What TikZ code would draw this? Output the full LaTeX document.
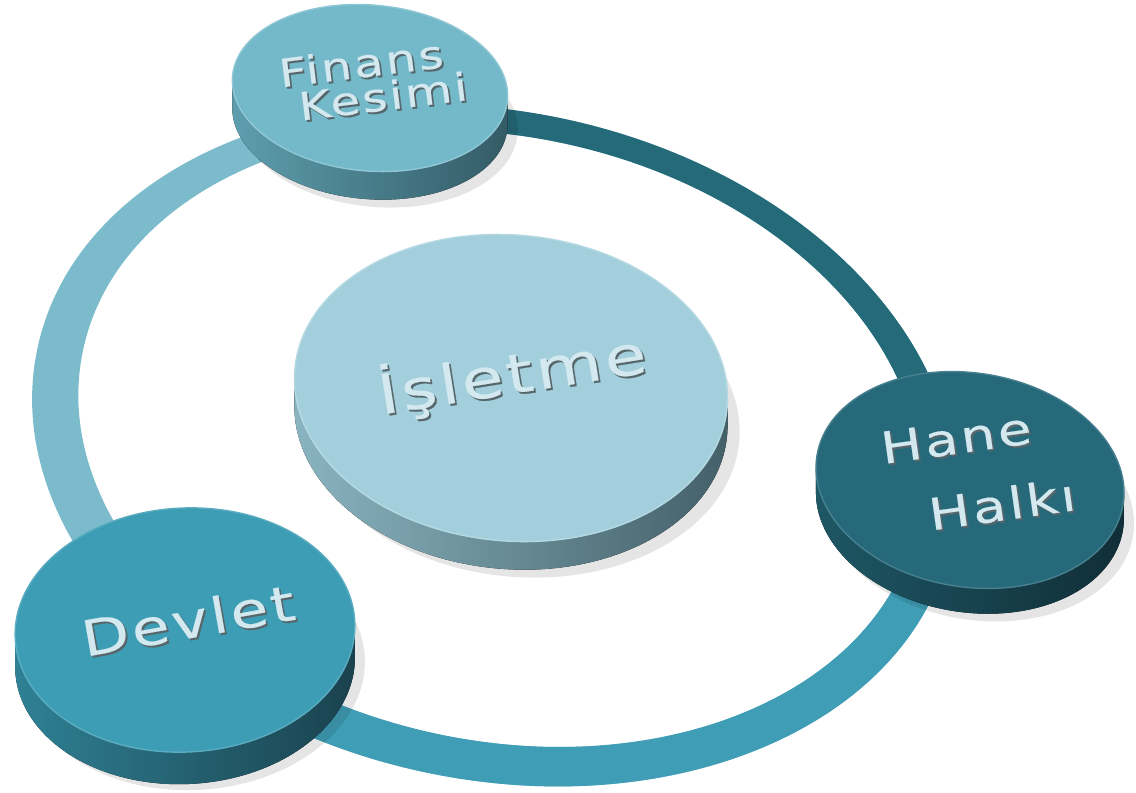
\documentclass[tikz,border=0pt]{standalone}
\usepackage{fontspec}
\setmainfont{DejaVu Sans}
\newfontfamily\discfont[LetterSpace=6, FakeStretch=1.25, FakeBold=0.4]{DejaVu Sans}
\usetikzlibrary{shapes.geometric}

\definecolor{ringlight}{HTML}{7BBBCB}
\definecolor{ringdark}{HTML}{256A79}
\definecolor{ringmid}{HTML}{3F9EB6}
\definecolor{finansF}{HTML}{74B9CA}
\definecolor{finansL}{HTML}{5E9FAF}
\definecolor{finansR}{HTML}{335A65}
\definecolor{isletmeF}{HTML}{A3CFDC}
\definecolor{isletmeL}{HTML}{8AB5C1}
\definecolor{isletmeR}{HTML}{435F68}
\definecolor{haneF}{HTML}{26697A}
\definecolor{haneL}{HTML}{1E5866}
\definecolor{haneR}{HTML}{102D36}
\definecolor{devletF}{HTML}{3D9DB5}
\definecolor{devletL}{HTML}{2F8195}
\definecolor{devletR}{HTML}{1A414D}
\definecolor{lbltext}{HTML}{D3E9EF}
\definecolor{lblshadow}{HTML}{56666B}

\tikzset{
  face/.style={shape=ellipse, inner sep=0pt},
  lbl/.style={text=lbltext, inner sep=0pt},
  lblsh/.style={text=lblshadow, inner sep=0pt, xshift=1.1pt, yshift=-1.1pt},
  small/.style={font=\discfont\fontsize{22}{26}\selectfont},
  mid/.style={font=\discfont\fontsize{25}{30}\selectfont},
  big/.style={font=\discfont\fontsize{28}{34}\selectfont},
  huge/.style={font=\discfont\fontsize{31}{36}\selectfont},
  dshadow/.style={black, opacity=.1}
}

\begin{document}
\begin{tikzpicture}[x=0.02cm, y=-0.02cm]
\useasboundingbox (0,0) rectangle (1136,792);

% ring
\fill[ringlight, even odd rule, rotate around={-12:(497,442)}] (495,446) ellipse [x radius=467, y radius=334] (499,438) ellipse [x radius=426, y radius=302];
\begin{scope}
\clip (497,442) -- (243,-262) -- (1433,-262) -- (1433,538) -- cycle;
\fill[ringdark, even odd rule, rotate around={-12:(497,442)}] (495,446) ellipse [x radius=467, y radius=334] (499,438) ellipse [x radius=426, y radius=302];
\end{scope}
\begin{scope}
\clip (497,442) -- (1433,538) -- (1433,1300) -- (-700,1300) -- (-700,838) -- (-127,838) -- cycle;
\fill[ringmid, even odd rule, rotate around={-12:(497,442)}] (495,446) ellipse [x radius=467, y radius=334] (499,438) ellipse [x radius=426, y radius=302];
\end{scope}

% Finans Kesimi
\fill[dshadow, rotate around={-5:(378,122)}] (378,122) ellipse [x radius=140, y radius=85];
\fill[left color=finansL, right color=finansR, rotate around={-5:(370,88)}]
  \foreach \d in {1,...,28} { (370+0.087*\d,88+\d) ellipse [x radius=138, y radius=83] };
\node[face, fill=finansF, draw=finansF!80!white, line width=0.8pt, minimum width=5.52cm, minimum height=3.32cm, rotate=-5] (finans) at (370,88) {};

% Isletme
\fill[dshadow, rotate around={-5:(521,422)}] (521,422) ellipse [x radius=219, y radius=155];
\fill[left color=isletmeL, right color=isletmeR, rotate around={-5:(511,388)}]
  \foreach \d in {1,...,28} { (511+0.087*\d,388+\d) ellipse [x radius=217, y radius=153] };
\node[face, fill=isletmeF, draw=isletmeF!80!white, line width=0.8pt, minimum width=8.68cm, minimum height=6.12cm, rotate=-5] (isletme) at (511,388) {};

% Hane Halki
\fill[dshadow, rotate around={-9:(978,511)}] (978,511) ellipse [x radius=157, y radius=109];
\fill[left color=haneL, right color=haneR, rotate around={-9:(970,480)}]
  \foreach \d in {1,...,25} { (970+0.156*\d,480+\d) ellipse [x radius=155, y radius=107] };
\node[face, fill=haneF, draw=haneF!85!white, line width=0.8pt, minimum width=6.2cm, minimum height=4.28cm, rotate=-9] (hane) at (970,480) {};

% Devlet
\fill[dshadow, rotate around={3:(193,666)}] (193,666) ellipse [x radius=172, y radius=124];
\fill[left color=devletL, right color=devletR, rotate around={3:(185,630)}]
  \foreach \d in {1,...,32} { (185-0.052*\d,630+\d) ellipse [x radius=170, y radius=122] };
\node[face, fill=devletF, draw=devletF!85!white, line width=0.8pt, minimum width=6.8cm, minimum height=4.88cm, rotate=3] (devlet) at (185,630) {};

% labels
\node[lblsh, huge, rotate=9] (isletmeS) at (512,374) {İşletme};
\node[lbl, huge, rotate=9] (isletmeT) at (512,374) {İşletme};
\node[lblsh, small, rotate=7] (finansS) at (361,63) {Finans};
\node[lbl, small, rotate=7] (finansT) at (361,63) {Finans};
\node[lblsh, small, rotate=7] (kesimiS) at (383,96) {Kesimi};
\node[lbl, small, rotate=7] (kesimiT) at (383,96) {Kesimi};
\node[lblsh, mid, rotate=8] (haneS) at (956,438) {Hane};
\node[lbl, mid, rotate=8] (haneT) at (956,438) {Hane};
\node[lblsh, mid, rotate=8] (halkiS) at (1002,504) {Halkı};
\node[lbl, mid, rotate=8] (halkiT) at (1002,504) {Halkı};
\node[lblsh, big, rotate=10] (devletS) at (188,620) {Devlet};
\node[lbl, big, rotate=10] (devletT) at (188,620) {Devlet};
\end{tikzpicture}
\end{document}
